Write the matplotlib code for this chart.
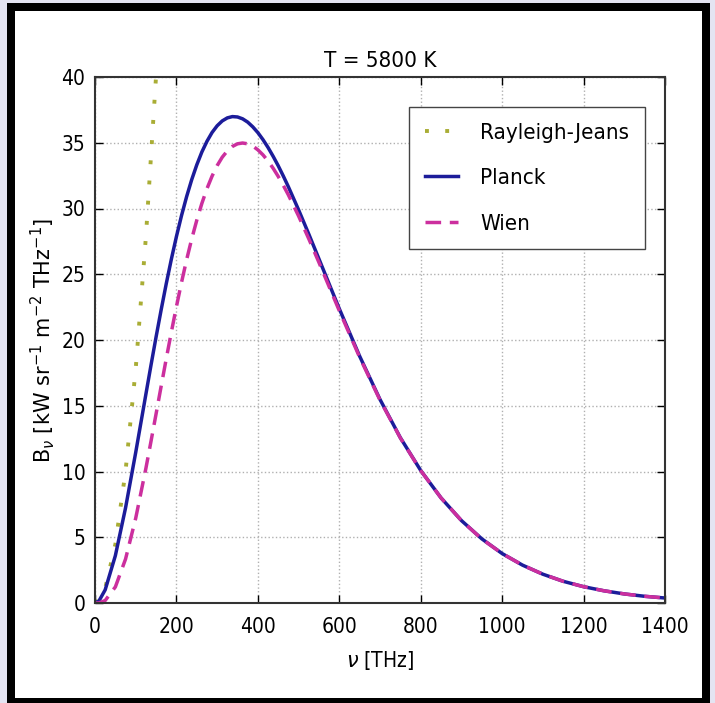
import numpy as np
import matplotlib
matplotlib.use("Agg")
import matplotlib.pyplot as plt
from matplotlib.patches import Rectangle

# frequencies [THz] and spectral radiance [kW sr^-1 m^-2 THz^-1]
nu = [0, 10, 25, 50, 75, 100, 125, 137.5, 150, 162.5, 175, 187.5, 200, 212.5, 225,
      237.5, 250, 262.5, 275, 287.5, 300, 312.5, 325, 337.5, 350, 362.5, 375, 387.5,
      400, 412.5, 425, 437.5, 450, 462.5, 475, 500, 525, 550, 575, 600, 650, 700,
      750, 800, 850, 900, 950, 1000, 1050, 1100, 1150, 1200, 1250, 1300, 1350, 1400]
planck = [0.0, 0.17, 1.00, 3.60, 7.23, 11.45, 15.88, 18.08, 20.23, 22.30, 24.28, 26.14,
          27.87, 29.46, 30.90, 32.19, 33.32, 34.30, 35.11, 35.78, 36.29, 36.66, 36.89,
          36.99, 36.96, 36.82, 36.57, 36.21, 35.77, 35.24, 34.64, 33.97, 33.25, 32.47,
          31.65, 29.90, 28.06, 26.17, 24.27, 22.38, 18.77, 15.48, 12.57, 10.08, 7.99,
          6.27, 4.88, 3.76, 2.88, 2.19, 1.65, 1.24, 0.93, 0.69, 0.51, 0.38]
wien = [0.0, 0.01, 0.19, 1.22, 3.34, 6.45, 10.24, 12.29, 14.38, 16.49, 18.57, 20.60,
        22.54, 24.38, 26.10, 27.68, 29.11, 30.39, 31.51, 32.46, 33.26, 33.90, 34.38,
        34.72, 34.92, 34.98, 34.92, 34.75, 34.46, 34.08, 33.61, 33.06, 32.44, 31.76,
        31.03, 29.43, 27.70, 25.90, 24.06, 22.23, 18.69, 15.43, 12.55, 10.07, 7.99,
        6.27, 4.87, 3.76, 2.88, 2.19, 1.65, 1.24, 0.93, 0.69, 0.51, 0.38]
nu_rj = [0, 25, 50, 75, 100, 125, 150]
rayleigh_jeans = [0.0, 1.11, 4.46, 10.02, 17.82, 27.84, 40.09]

fig = plt.figure(figsize=(7.15, 7.03), dpi=100)
fig.patch.set_facecolor("#e4e4f2")
# dark frame + white card around the plot
fig.patches.append(Rectangle((7 / 715, 0), 703 / 715, 700 / 703, transform=fig.transFigure,
                             facecolor="black", edgecolor="none", zorder=-2))
fig.patches.append(Rectangle((15 / 715, 5 / 703), 687 / 715, 687 / 703, transform=fig.transFigure,
                             facecolor="white", edgecolor="none", zorder=-1))

ax = fig.add_axes([95 / 715, 1 - 603 / 703, 570 / 715, 526 / 703])
ax.set_facecolor("white")

ax.plot(nu_rj, rayleigh_jeans, linestyle=(0, (1, 4.2)), color="#a9ad35", lw=2.8,
        dash_capstyle="butt", label="Rayleigh-Jeans")
ax.plot(nu, planck, "-", color="#1c1c9a", lw=2.5, label="Planck")
ax.plot(nu, wien, "--", color="#cc2f9e", lw=2.5, dashes=(4.5, 2.5), label="Wien")

ax.set_xlim(0, 1400)
ax.set_ylim(0, 40)
ax.set_xticks(np.arange(0, 1401, 200))
ax.set_yticks(np.arange(0, 41, 5))
ax.tick_params(direction="in", top=True, right=True, length=6, width=1, labelsize=15, pad=7)
ax.tick_params(axis="x", pad=10)
for lab in ax.get_xticklabels() + ax.get_yticklabels():
    lab.set_fontstretch("condensed")
ax.grid(True, linestyle=":", color="#b0b0b0", lw=1)
for s in ax.spines.values():
    s.set_color("#333333")
    s.set_linewidth(1.5)

ax.set_title("T = 5800 K", fontsize=16, fontstretch="condensed", pad=7)
ax.set_xlabel(r"$\nu$ [THz]", fontsize=15, fontstretch="condensed", labelpad=9)
ax.set_ylabel(r"B$_\nu$ [kW sr$^{-1}$ m$^{-2}$ THz$^{-1}$]", fontsize=15, labelpad=3)

leg = ax.legend(loc="upper right", bbox_to_anchor=(0.965, 0.943), borderaxespad=0,
                prop={"size": 16, "stretch": "condensed"}, fancybox=False, framealpha=1,
                edgecolor="#444444", labelspacing=1.15, handlelength=1.5,
                handletextpad=1.0, borderpad=0.7)

plt.savefig("out.png", dpi=100, facecolor=fig.get_facecolor())
